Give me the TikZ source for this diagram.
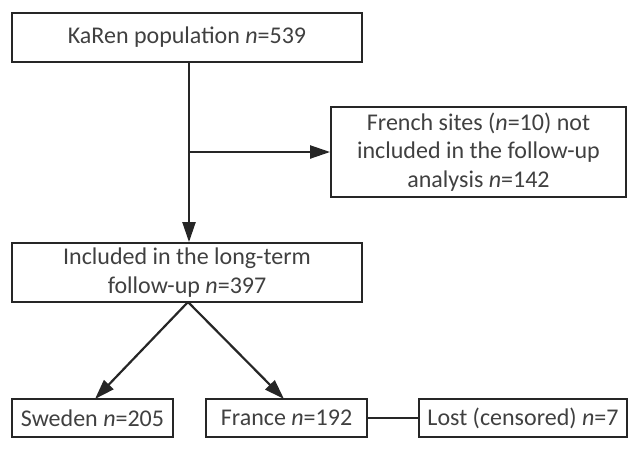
\documentclass[tikz,border=0pt]{standalone}
\usepackage{fontspec}
\setmainfont{Carlito}
\usetikzlibrary{arrows.meta}
\definecolor{txt}{HTML}{404040}
\definecolor{ln}{HTML}{262626}
\begin{document}
\begin{tikzpicture}[x=1pt,y=1pt,
  box/.style={draw=ln,line width=1.8pt,text=txt,font=\fontsize{24}{28.5}\selectfont,
    inner sep=0pt,align=center,anchor=center},
  conn/.style={draw=ln,line width=2.2pt},
  arr/.style={conn,-{Triangle[length=20pt,width=13pt]}}]
\useasboundingbox (0,0) rectangle (628,-455);
\node[box,minimum width=350,minimum height=49] (top) at (187,-37.5) {KaRen population \textit{n}=539};
\node[box,minimum width=295,minimum height=90] (excl) at (478.5,-152) {French sites (\textit{n}=10) not\\included in the follow-up\\analysis \textit{n}=142};
\node[box,minimum width=350,minimum height=59] (incl) at (187,-272.5) {Included in the long-term\\follow-up \textit{n}=397};
\node[box,minimum width=161,minimum height=38] (swe) at (92.5,-418) {Sweden \textit{n}=205};
\node[box,minimum width=161,minimum height=38] (fra) at (286.5,-418) {France \textit{n}=192};
\node[box,minimum width=208,minimum height=38] (lost) at (523,-418) {Lost (censored) \textit{n}=7};
\coordinate (br) at (189,-152);
\draw[arr] (top.south -| br) -- (incl.north -| br);
\draw[arr] (br) -- (excl.west);
\coordinate (vs) at (188,-302);
\coordinate (st) at (95,-399);
\coordinate (ft) at (284,-399);
\draw[arr] (vs) -- (st);
\draw[arr] (vs) -- (ft);
\draw[conn,line width=2.6pt] (fra.east) -- (lost.west);
\end{tikzpicture}
\end{document}
